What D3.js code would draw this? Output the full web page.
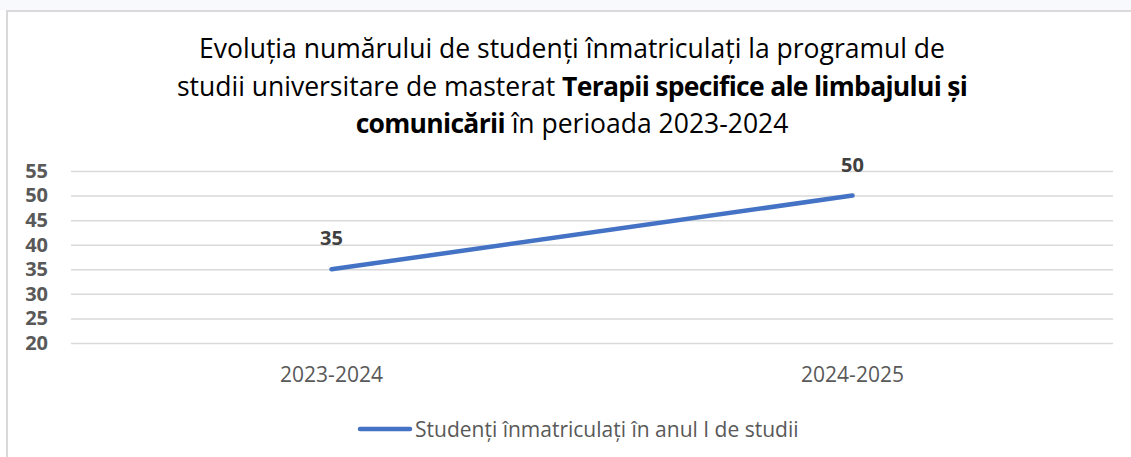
<!DOCTYPE html>
<html lang="ro">
<head>
<meta charset="UTF-8">
<title>Studenți înmatriculați</title>
<script src="https://d3js.org/d3.v7.min.js"></script>
<style>
  html, body { margin: 0; padding: 0; background: #fff; }
  svg { display: block; }
</style>
</head>
<body>
<div id="chart"></div>
<script>
    // data
    const categories = ["2023-2024", "2024-2025"];
    const values = [35, 50];
    const yTicks = [20, 25, 30, 35, 40, 45, 50, 55];
    const seriesName = "Studenți înmatriculați în anul I de studii";
    const titleLines = [
        [{ t: "Evoluția numărului de studenți înmatriculați la programul de", b: false }],
        [{ t: "studii universitare de masterat ", b: false }, { t: "Terapii specifice ale limbajului și", b: true }],
        [{ t: "comunicării", b: true }, { t: " în perioada 2023-2024", b: false }]
    ];

    const W = 1131, H = 457;
    const margin = { top: 171, right: 18, bottom: 114, left: 71 };
    const width = W - margin.left - margin.right,
        height = H - margin.top - margin.bottom;

    const svg = d3.select("#chart").append("svg")
        .attr("width", W)
        .attr("height", H);

    // faint strip above the chart frame
    svg.append("rect").attr("x", 0).attr("y", 0).attr("width", W).attr("height", 10)
        .attr("fill", "#f7f9fc");
    svg.append("rect").attr("x", 7).attr("y", 11).attr("width", W).attr("height", H)
        .attr("fill", "#fff").attr("stroke", "#d9d9d9").attr("stroke-width", 2);

    // title
    const title = svg.append("text")
        .attr("text-anchor", "middle")
        .attr("font-family", "'Open Sans', sans-serif")
        .attr("font-size", 26.5)
        .attr("fill", "#000");
    titleLines.forEach((line, i) => {
        line.forEach((part, j) => {
            const ts = title.append("tspan")
                .attr("font-weight", part.b ? "bold" : "normal")
                .attr("letter-spacing", part.b ? -0.7 : 0)
                .text(part.t);
            if (j === 0) ts.attr("x", 572).attr("y", 58 + i * 37.5);
        });
    });

    const g = svg.append("g").attr("transform", `translate(${margin.left},${margin.top})`);

    const x = d3.scaleBand().domain(categories).range([0, width]);
    const y = d3.scaleLinear().domain([20, 55]).range([height, 0]);

    // gridlines
    g.append("g")
        .call(d3.axisLeft(y).tickValues(yTicks).tickSize(-width).tickFormat(""))
        .call(a => a.select(".domain").remove())
        .call(a => a.selectAll("line").attr("stroke", "#d9d9d9").attr("stroke-width", 1.5));

    // y labels
    g.append("g")
        .call(d3.axisLeft(y).tickValues(yTicks).tickSize(0).tickPadding(23))
        .call(a => a.select(".domain").remove())
        .call(a => a.selectAll("text")
            .attr("font-family", "'Open Sans', sans-serif")
            .attr("font-size", 20)
            .attr("font-weight", "bold")
            .attr("fill", "#595959"));

    // x labels
    g.append("g")
        .attr("transform", `translate(0,${height})`)
        .call(d3.axisBottom(x).tickSize(0).tickPadding(24))
        .call(a => a.select(".domain").remove())
        .call(a => a.selectAll("text")
            .attr("font-family", "'Open Sans', sans-serif")
            .attr("font-size", 21)
            .attr("fill", "#595959"));

    const pts = categories.map((c, i) => ({ c: c, v: values[i] }));

    g.append("path")
        .datum(pts)
        .attr("fill", "none")
        .attr("stroke", "#4472c4")
        .attr("stroke-width", 4.5)
        .attr("stroke-linecap", "round")
        .attr("d", d3.line()
            .x(d => x(d.c) + x.bandwidth() / 2)
            .y(d => y(d.v)));

    // data labels
    g.selectAll(".lbl")
        .data(pts)
        .enter().append("text")
        .attr("x", d => x(d.c) + x.bandwidth() / 2)
        .attr("y", d => y(d.v) - 24)
        .attr("text-anchor", "middle")
        .attr("font-family", "'Open Sans', sans-serif")
        .attr("font-size", 20)
        .attr("font-weight", "bold")
        .attr("fill", "#404040")
        .text(d => d.v);

    // legend
    const lg = svg.append("g").attr("transform", "translate(360,429)");
    lg.append("line").attr("x1", 0).attr("x2", 50).attr("y1", 0).attr("y2", 0)
        .attr("stroke", "#4472c4").attr("stroke-width", 4.5).attr("stroke-linecap", "round");
    lg.append("text")
        .attr("x", 55).attr("y", 7.5)
        .attr("font-family", "'Open Sans', sans-serif")
        .attr("font-size", 21)
        .attr("fill", "#595959")
        .text(seriesName);
</script>
</body>
</html>
